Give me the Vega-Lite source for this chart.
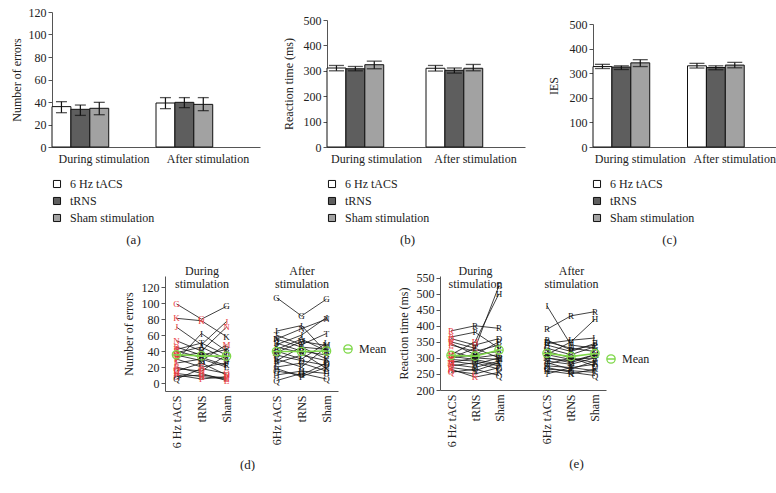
{
  "$schema": "https://vega.github.io/schema/vega-lite/v6.json",
  "padding": {"left": 10, "top": 6, "right": 0, "bottom": 0},
  "config": {
    "font": "Liberation Serif",
    "view": {"stroke": null},
    "axis": {"labelFont": "Liberation Serif", "titleFont": "Liberation Serif", "labelColor": "#222", "titleColor": "#222", "titleFontWeight": "normal", "labelFontSize": 12, "titleFontSize": 12, "domainColor": "#555", "tickColor": "#555", "grid": false, "labelOverlap": false},
    "legend": {"labelFont": "Liberation Serif", "labelFontSize": 12, "labelColor": "#222", "padding": 0},
    "title": {"font": "Liberation Serif"}
  },
  "datasets": {
    "bars": [
      {"panel": "a", "phase": "During stimulation", "cond": "6 Hz tACS", "mean": 35.9, "lo": 30.5, "hi": 40.3},
      {"panel": "a", "phase": "During stimulation", "cond": "tRNS", "mean": 33.5, "lo": 28.1, "hi": 37.3},
      {"panel": "a", "phase": "During stimulation", "cond": "Sham stimulation", "mean": 34.4, "lo": 28.7, "hi": 39.7},
      {"panel": "a", "phase": "After stimulation", "cond": "6 Hz tACS", "mean": 39.1, "lo": 34.1, "hi": 43.9},
      {"panel": "a", "phase": "After stimulation", "cond": "tRNS", "mean": 39.7, "lo": 35.0, "hi": 43.9},
      {"panel": "a", "phase": "After stimulation", "cond": "Sham stimulation", "mean": 37.9, "lo": 32.3, "hi": 43.9},
      {"panel": "b", "phase": "During stimulation", "cond": "6 Hz tACS", "mean": 311, "lo": 300, "hi": 321},
      {"panel": "b", "phase": "During stimulation", "cond": "tRNS", "mean": 308, "lo": 300, "hi": 317},
      {"panel": "b", "phase": "During stimulation", "cond": "Sham stimulation", "mean": 324, "lo": 308, "hi": 338},
      {"panel": "b", "phase": "After stimulation", "cond": "6 Hz tACS", "mean": 310, "lo": 299, "hi": 321},
      {"panel": "b", "phase": "After stimulation", "cond": "tRNS", "mean": 302, "lo": 291, "hi": 311},
      {"panel": "b", "phase": "After stimulation", "cond": "Sham stimulation", "mean": 310, "lo": 300, "hi": 325},
      {"panel": "c", "phase": "During stimulation", "cond": "6 Hz tACS", "mean": 327, "lo": 319, "hi": 336},
      {"panel": "c", "phase": "During stimulation", "cond": "tRNS", "mean": 325, "lo": 315, "hi": 330},
      {"panel": "c", "phase": "During stimulation", "cond": "Sham stimulation", "mean": 342, "lo": 327, "hi": 355},
      {"panel": "c", "phase": "After stimulation", "cond": "6 Hz tACS", "mean": 330, "lo": 321, "hi": 340},
      {"panel": "c", "phase": "After stimulation", "cond": "tRNS", "mean": 323, "lo": 314, "hi": 330},
      {"panel": "c", "phase": "After stimulation", "cond": "Sham stimulation", "mean": 333, "lo": 322, "hi": 344}
    ],
    "err": [
      {"s":"A","p":"d","c":"d1","v":38,"r":1},{"s":"A","p":"d","c":"d2","v":45},{"s":"A","p":"d","c":"d3","v":30},{"s":"A","p":"a","c":"a1","v":42},{"s":"A","p":"a","c":"a2","v":55},{"s":"A","p":"a","c":"a3","v":40},
      {"s":"B","p":"d","c":"d1","v":45,"r":1},{"s":"B","p":"d","c":"d2","v":35},{"s":"B","p":"d","c":"d3","v":42},{"s":"B","p":"a","c":"a1","v":50},{"s":"B","p":"a","c":"a2","v":40},{"s":"B","p":"a","c":"a3","v":35},
      {"s":"C","p":"d","c":"d1","v":8,"r":1},{"s":"C","p":"d","c":"d2","v":10,"r":1},{"s":"C","p":"d","c":"d3","v":6,"r":1},{"s":"C","p":"a","c":"a1","v":20},{"s":"C","p":"a","c":"a2","v":25},{"s":"C","p":"a","c":"a3","v":15},
      {"s":"D","p":"d","c":"d1","v":15,"r":1},{"s":"D","p":"d","c":"d2","v":25},{"s":"D","p":"d","c":"d3","v":10,"r":1},{"s":"D","p":"a","c":"a1","v":35},{"s":"D","p":"a","c":"a2","v":28},{"s":"D","p":"a","c":"a3","v":22},
      {"s":"E","p":"d","c":"d1","v":20,"r":1},{"s":"E","p":"d","c":"d2","v":12,"r":1},{"s":"E","p":"d","c":"d3","v":3,"r":1},{"s":"E","p":"a","c":"a1","v":30},{"s":"E","p":"a","c":"a2","v":20},{"s":"E","p":"a","c":"a3","v":45},
      {"s":"F","p":"d","c":"d1","v":30,"r":1},{"s":"F","p":"d","c":"d2","v":20,"r":1},{"s":"F","p":"d","c":"d3","v":25},{"s":"F","p":"a","c":"a1","v":25},{"s":"F","p":"a","c":"a2","v":35},{"s":"F","p":"a","c":"a3","v":28},
      {"s":"G","p":"d","c":"d1","v":99,"r":1},{"s":"G","p":"d","c":"d2","v":80,"r":1},{"s":"G","p":"d","c":"d3","v":96},{"s":"G","p":"a","c":"a1","v":107},{"s":"G","p":"a","c":"a2","v":84},{"s":"G","p":"a","c":"a3","v":105},
      {"s":"H","p":"d","c":"d1","v":12,"r":1},{"s":"H","p":"d","c":"d2","v":8,"r":1},{"s":"H","p":"d","c":"d3","v":5,"r":1},{"s":"H","p":"a","c":"a1","v":10},{"s":"H","p":"a","c":"a2","v":15},{"s":"H","p":"a","c":"a3","v":12},
      {"s":"I","p":"d","c":"d1","v":28,"r":1},{"s":"I","p":"d","c":"d2","v":62},{"s":"I","p":"d","c":"d3","v":40},{"s":"I","p":"a","c":"a1","v":65},{"s":"I","p":"a","c":"a2","v":72},{"s":"I","p":"a","c":"a3","v":38},
      {"s":"J","p":"d","c":"d1","v":70,"r":1},{"s":"J","p":"d","c":"d2","v":48},{"s":"J","p":"d","c":"d3","v":77,"r":1},{"s":"J","p":"a","c":"a1","v":48},{"s":"J","p":"a","c":"a2","v":60},{"s":"J","p":"a","c":"a3","v":82},
      {"s":"K","p":"d","c":"d1","v":81,"r":1},{"s":"K","p":"d","c":"d2","v":78,"r":1},{"s":"K","p":"d","c":"d3","v":58},{"s":"K","p":"a","c":"a1","v":55},{"s":"K","p":"a","c":"a2","v":45},{"s":"K","p":"a","c":"a3","v":30},
      {"s":"L","p":"d","c":"d1","v":25,"r":1},{"s":"L","p":"d","c":"d2","v":30},{"s":"L","p":"d","c":"d3","v":20},{"s":"L","p":"a","c":"a1","v":40},{"s":"L","p":"a","c":"a2","v":30},{"s":"L","p":"a","c":"a3","v":50},
      {"s":"M","p":"d","c":"d1","v":35,"r":1},{"s":"M","p":"d","c":"d2","v":28},{"s":"M","p":"d","c":"d3","v":48,"r":1},{"s":"M","p":"a","c":"a1","v":38},{"s":"M","p":"a","c":"a2","v":52},{"s":"M","p":"a","c":"a3","v":47},
      {"s":"N","p":"d","c":"d1","v":53,"r":1},{"s":"N","p":"d","c":"d2","v":40},{"s":"N","p":"d","c":"d3","v":70,"r":1},{"s":"N","p":"a","c":"a1","v":55},{"s":"N","p":"a","c":"a2","v":68},{"s":"N","p":"a","c":"a3","v":80},
      {"s":"O","p":"d","c":"d1","v":18,"r":1},{"s":"O","p":"d","c":"d2","v":15,"r":1},{"s":"O","p":"d","c":"d3","v":35},{"s":"O","p":"a","c":"a1","v":15},{"s":"O","p":"a","c":"a2","v":10},{"s":"O","p":"a","c":"a3","v":25},
      {"s":"P","p":"d","c":"d1","v":10,"r":1},{"s":"P","p":"d","c":"d2","v":5,"r":1},{"s":"P","p":"d","c":"d3","v":8,"r":1},{"s":"P","p":"a","c":"a1","v":18},{"s":"P","p":"a","c":"a2","v":8},{"s":"P","p":"a","c":"a3","v":20},
      {"s":"Q","p":"d","c":"d1","v":5},{"s":"Q","p":"d","c":"d2","v":18,"r":1},{"s":"Q","p":"d","c":"d3","v":12,"r":1},{"s":"Q","p":"a","c":"a1","v":3},{"s":"Q","p":"a","c":"a2","v":12},{"s":"Q","p":"a","c":"a3","v":5},
      {"s":"R","p":"d","c":"d1","v":40,"r":1},{"s":"R","p":"d","c":"d2","v":32},{"s":"R","p":"d","c":"d3","v":22},{"s":"R","p":"a","c":"a1","v":28},{"s":"R","p":"a","c":"a2","v":45},{"s":"R","p":"a","c":"a3","v":42},
      {"s":"S","p":"d","c":"d1","v":33,"r":1},{"s":"S","p":"d","c":"d2","v":38},{"s":"S","p":"d","c":"d3","v":28},{"s":"S","p":"a","c":"a1","v":45},{"s":"S","p":"a","c":"a2","v":38},{"s":"S","p":"a","c":"a3","v":18},
      {"s":"T","p":"d","c":"d1","v":42,"r":1},{"s":"T","p":"d","c":"d2","v":50},{"s":"T","p":"d","c":"d3","v":35},{"s":"T","p":"a","c":"a1","v":60},{"s":"T","p":"a","c":"a2","v":48},{"s":"T","p":"a","c":"a3","v":62}
    ],
    "rt": [
      {"s":"A","p":"d","c":"d1","v":290,"r":1},{"s":"A","p":"d","c":"d2","v":280},{"s":"A","p":"d","c":"d3","v":300},{"s":"A","p":"a","c":"a1","v":300},{"s":"A","p":"a","c":"a2","v":290},{"s":"A","p":"a","c":"a3","v":310},
      {"s":"B","p":"d","c":"d1","v":345,"r":1},{"s":"B","p":"d","c":"d2","v":310},{"s":"B","p":"d","c":"d3","v":350},{"s":"B","p":"a","c":"a1","v":340},{"s":"B","p":"a","c":"a2","v":320},{"s":"B","p":"a","c":"a3","v":345},
      {"s":"C","p":"d","c":"d1","v":260,"r":1},{"s":"C","p":"d","c":"d2","v":250,"r":1},{"s":"C","p":"d","c":"d3","v":270},{"s":"C","p":"a","c":"a1","v":265},{"s":"C","p":"a","c":"a2","v":260},{"s":"C","p":"a","c":"a3","v":255},
      {"s":"D","p":"d","c":"d1","v":360,"r":1},{"s":"D","p":"d","c":"d2","v":340},{"s":"D","p":"d","c":"d3","v":360},{"s":"D","p":"a","c":"a1","v":350},{"s":"D","p":"a","c":"a2","v":330},{"s":"D","p":"a","c":"a3","v":320},
      {"s":"E","p":"d","c":"d1","v":300,"r":1},{"s":"E","p":"d","c":"d2","v":330,"r":1},{"s":"E","p":"d","c":"d3","v":525},{"s":"E","p":"a","c":"a1","v":290},{"s":"E","p":"a","c":"a2","v":280},{"s":"E","p":"a","c":"a3","v":300},
      {"s":"F","p":"d","c":"d1","v":280,"r":1},{"s":"F","p":"d","c":"d2","v":270},{"s":"F","p":"d","c":"d3","v":290},{"s":"F","p":"a","c":"a1","v":275},{"s":"F","p":"a","c":"a2","v":270},{"s":"F","p":"a","c":"a3","v":280},
      {"s":"G","p":"d","c":"d1","v":320,"r":1},{"s":"G","p":"d","c":"d2","v":300},{"s":"G","p":"d","c":"d3","v":310},{"s":"G","p":"a","c":"a1","v":330},{"s":"G","p":"a","c":"a2","v":310},{"s":"G","p":"a","c":"a3","v":335},
      {"s":"H","p":"d","c":"d1","v":310,"r":1},{"s":"H","p":"d","c":"d2","v":350,"r":1},{"s":"H","p":"d","c":"d3","v":500},{"s":"H","p":"a","c":"a1","v":310},{"s":"H","p":"a","c":"a2","v":350},{"s":"H","p":"a","c":"a3","v":420},
      {"s":"I","p":"d","c":"d1","v":270,"r":1},{"s":"I","p":"d","c":"d2","v":260},{"s":"I","p":"d","c":"d3","v":285},{"s":"I","p":"a","c":"a1","v":462},{"s":"I","p":"a","c":"a2","v":340},{"s":"I","p":"a","c":"a3","v":330},
      {"s":"J","p":"d","c":"d1","v":295,"r":1},{"s":"J","p":"d","c":"d2","v":290},{"s":"J","p":"d","c":"d3","v":275},{"s":"J","p":"a","c":"a1","v":285},{"s":"J","p":"a","c":"a2","v":265},{"s":"J","p":"a","c":"a3","v":290},
      {"s":"K","p":"d","c":"d1","v":265,"r":1},{"s":"K","p":"d","c":"d2","v":240,"r":1},{"s":"K","p":"d","c":"d3","v":255},{"s":"K","p":"a","c":"a1","v":260},{"s":"K","p":"a","c":"a2","v":250},{"s":"K","p":"a","c":"a3","v":265},
      {"s":"L","p":"d","c":"d1","v":340,"r":1},{"s":"L","p":"d","c":"d2","v":320},{"s":"L","p":"d","c":"d3","v":340},{"s":"L","p":"a","c":"a1","v":345},{"s":"L","p":"a","c":"a2","v":355},{"s":"L","p":"a","c":"a3","v":362},
      {"s":"M","p":"d","c":"d1","v":285,"r":1},{"s":"M","p":"d","c":"d2","v":300},{"s":"M","p":"d","c":"d3","v":295},{"s":"M","p":"a","c":"a1","v":300},{"s":"M","p":"a","c":"a2","v":285},{"s":"M","p":"a","c":"a3","v":310},
      {"s":"N","p":"d","c":"d1","v":305,"r":1},{"s":"N","p":"d","c":"d2","v":295},{"s":"N","p":"d","c":"d3","v":280},{"s":"N","p":"a","c":"a1","v":320},{"s":"N","p":"a","c":"a2","v":300},{"s":"N","p":"a","c":"a3","v":285},
      {"s":"O","p":"d","c":"d1","v":275,"r":1},{"s":"O","p":"d","c":"d2","v":285},{"s":"O","p":"d","c":"d3","v":265},{"s":"O","p":"a","c":"a1","v":280},{"s":"O","p":"a","c":"a2","v":300},{"s":"O","p":"a","c":"a3","v":275},
      {"s":"P","p":"d","c":"d1","v":365,"r":1},{"s":"P","p":"d","c":"d2","v":380},{"s":"P","p":"d","c":"d3","v":330},{"s":"P","p":"a","c":"a1","v":355},{"s":"P","p":"a","c":"a2","v":325},{"s":"P","p":"a","c":"a3","v":340},
      {"s":"Q","p":"d","c":"d1","v":255,"r":1},{"s":"Q","p":"d","c":"d2","v":265},{"s":"Q","p":"d","c":"d3","v":245},{"s":"Q","p":"a","c":"a1","v":270},{"s":"Q","p":"a","c":"a2","v":255},{"s":"Q","p":"a","c":"a3","v":245},
      {"s":"R","p":"d","c":"d1","v":384,"r":1},{"s":"R","p":"d","c":"d2","v":400},{"s":"R","p":"d","c":"d3","v":392},{"s":"R","p":"a","c":"a1","v":389},{"s":"R","p":"a","c":"a2","v":431},{"s":"R","p":"a","c":"a3","v":444},
      {"s":"S","p":"d","c":"d1","v":300,"r":1},{"s":"S","p":"d","c":"d2","v":310},{"s":"S","p":"d","c":"d3","v":320},{"s":"S","p":"a","c":"a1","v":310},{"s":"S","p":"a","c":"a2","v":295},{"s":"S","p":"a","c":"a3","v":300},
      {"s":"T","p":"d","c":"d1","v":350,"r":1},{"s":"T","p":"d","c":"d2","v":330},{"s":"T","p":"d","c":"d3","v":300},{"s":"T","p":"a","c":"a1","v":250},{"s":"T","p":"a","c":"a2","v":270},{"s":"T","p":"a","c":"a3","v":260}
    ]
  },
  "vconcat": [
    {
      "hconcat": [
        {
          "width": 208, "height": 135,
          "data": {"name": "bars"},
          "transform": [{"filter": "datum.panel == 'a'"}],
          "layer": [
            {"mark": {"type": "bar", "stroke": "#111", "strokeWidth": 1},
             "encoding": {
               "x": {"field": "phase", "type": "nominal", "sort": ["During stimulation", "After stimulation"], "scale": {"paddingInner": 0, "paddingOuter": 0},
                     "axis": {"title": "(a)", "labelAngle": 0, "ticks": false, "labelPadding": 6, "titleX": 81, "titleY": 86, "titleBaseline": "top", "titleFontSize": 13}},
               "xOffset": {"field": "cond", "type": "nominal", "scale": {"domain": ["6 Hz tACS", "tRNS", "Sham stimulation", "e1", "e2"], "paddingInner": 0, "paddingOuter": 0.25, "align": 0}},
               "y": {"field": "mean", "type": "quantitative", "scale": {"domain": [0, 120]}, "axis": {"values": [0, 20, 40, 60, 80, 100, 120], "tickCount": 12, "labelOverlap": false, "title": "Number of errors", "tickSize": 4, "titlePadding": 5}},
               "fill": {"field": "cond", "type": "nominal", "scale": {"domain": ["6 Hz tACS", "tRNS", "Sham stimulation"], "range": ["#ffffff", "#5e5e5e", "#a2a2a2"]},
                        "legend": {"orient": "none", "legendX": -1, "legendY": 166, "title": null, "symbolType": "square", "symbolSize": 50, "symbolStrokeColor": "#111", "symbolStrokeWidth": 1, "rowPadding": 5, "labelOffset": 7}}
             }},
            {"mark": {"type": "rule", "color": "#111", "strokeWidth": 1.2},
             "encoding": {"x": {"field": "phase", "type": "nominal", "sort": ["During stimulation", "After stimulation"]}, "xOffset": {"field": "cond", "type": "nominal"}, "y": {"field": "lo", "type": "quantitative"}, "y2": {"field": "hi"}}},
            {"mark": {"type": "tick", "color": "#111", "thickness": 1.3, "size": 11},
             "encoding": {"x": {"field": "phase", "type": "nominal", "sort": ["During stimulation", "After stimulation"]}, "xOffset": {"field": "cond", "type": "nominal"}, "y": {"field": "lo", "type": "quantitative"}}},
            {"mark": {"type": "tick", "color": "#111", "thickness": 1.3, "size": 11},
             "encoding": {"x": {"field": "phase", "type": "nominal", "sort": ["During stimulation", "After stimulation"]}, "xOffset": {"field": "cond", "type": "nominal"}, "y": {"field": "hi", "type": "quantitative"}}}
          ]
        },
        {
          "width": 198, "height": 135,
          "data": {"name": "bars"},
          "transform": [{"filter": "datum.panel == 'b'"}],
          "layer": [
            {"mark": {"type": "bar", "stroke": "#111", "strokeWidth": 1},
             "encoding": {
               "x": {"field": "phase", "type": "nominal", "sort": ["During stimulation", "After stimulation"], "scale": {"paddingInner": 0, "paddingOuter": 0},
                     "axis": {"title": "(b)", "labelAngle": 0, "ticks": false, "labelPadding": 6, "titleX": 80, "titleY": 86, "titleBaseline": "top", "titleFontSize": 13}},
               "xOffset": {"field": "cond", "type": "nominal", "scale": {"domain": ["6 Hz tACS", "tRNS", "Sham stimulation"], "paddingInner": 0, "paddingOuter": 0.28}},
               "y": {"field": "mean", "type": "quantitative", "scale": {"domain": [0, 500], "range": [135, 8]}, "axis": {"values": [0, 100, 200, 300, 400, 500], "tickCount": 12, "labelOverlap": false, "title": "Reaction time (ms)", "tickSize": 4, "titlePadding": 8}},
               "fill": {"field": "cond", "type": "nominal", "scale": {"domain": ["6 Hz tACS", "tRNS", "Sham stimulation"], "range": ["#ffffff", "#5e5e5e", "#a2a2a2"]},
                        "legend": {"orient": "none", "legendX": -1, "legendY": 166, "title": null, "symbolType": "square", "symbolSize": 50, "symbolStrokeColor": "#111", "symbolStrokeWidth": 1, "rowPadding": 5, "labelOffset": 7}}
             }},
            {"mark": {"type": "rule", "color": "#111", "strokeWidth": 1.2},
             "encoding": {"x": {"field": "phase", "type": "nominal", "sort": ["During stimulation", "After stimulation"]}, "xOffset": {"field": "cond", "type": "nominal"}, "y": {"field": "lo", "type": "quantitative"}, "y2": {"field": "hi"}}},
            {"mark": {"type": "tick", "color": "#111", "thickness": 1.3, "size": 15},
             "encoding": {"x": {"field": "phase", "type": "nominal", "sort": ["During stimulation", "After stimulation"]}, "xOffset": {"field": "cond", "type": "nominal"}, "y": {"field": "lo", "type": "quantitative"}}},
            {"mark": {"type": "tick", "color": "#111", "thickness": 1.3, "size": 15},
             "encoding": {"x": {"field": "phase", "type": "nominal", "sort": ["During stimulation", "After stimulation"]}, "xOffset": {"field": "cond", "type": "nominal"}, "y": {"field": "hi", "type": "quantitative"}}}
          ]
        },
        {
          "width": 189, "height": 135,
          "data": {"name": "bars"},
          "transform": [{"filter": "datum.panel == 'c'"}],
          "layer": [
            {"mark": {"type": "bar", "stroke": "#111", "strokeWidth": 1},
             "encoding": {
               "x": {"field": "phase", "type": "nominal", "sort": ["During stimulation", "After stimulation"], "scale": {"paddingInner": 0, "paddingOuter": 0},
                     "axis": {"title": "(c)", "labelAngle": 0, "ticks": false, "labelPadding": 6, "titleX": 76, "titleY": 86, "titleBaseline": "top", "titleFontSize": 13}},
               "xOffset": {"field": "cond", "type": "nominal", "scale": {"domain": ["6 Hz tACS", "tRNS", "Sham stimulation"], "paddingInner": 0, "paddingOuter": 0.27}},
               "y": {"field": "mean", "type": "quantitative", "scale": {"domain": [0, 500], "range": [135, 12]}, "axis": {"values": [0, 100, 200, 300, 400, 500], "tickCount": 12, "labelOverlap": false, "title": "IES", "tickSize": 4, "titlePadding": 9}},
               "fill": {"field": "cond", "type": "nominal", "scale": {"domain": ["6 Hz tACS", "tRNS", "Sham stimulation"], "range": ["#ffffff", "#5e5e5e", "#a2a2a2"]},
                        "legend": {"orient": "none", "legendX": -2, "legendY": 166, "title": null, "symbolType": "square", "symbolSize": 50, "symbolStrokeColor": "#111", "symbolStrokeWidth": 1, "rowPadding": 5, "labelOffset": 7}}
             }},
            {"mark": {"type": "rule", "color": "#111", "strokeWidth": 1.2},
             "encoding": {"x": {"field": "phase", "type": "nominal", "sort": ["During stimulation", "After stimulation"]}, "xOffset": {"field": "cond", "type": "nominal"}, "y": {"field": "lo", "type": "quantitative"}, "y2": {"field": "hi"}}},
            {"mark": {"type": "tick", "color": "#111", "thickness": 1.3, "size": 15},
             "encoding": {"x": {"field": "phase", "type": "nominal", "sort": ["During stimulation", "After stimulation"]}, "xOffset": {"field": "cond", "type": "nominal"}, "y": {"field": "lo", "type": "quantitative"}}},
            {"mark": {"type": "tick", "color": "#111", "thickness": 1.3, "size": 15},
             "encoding": {"x": {"field": "phase", "type": "nominal", "sort": ["During stimulation", "After stimulation"]}, "xOffset": {"field": "cond", "type": "nominal"}, "y": {"field": "hi", "type": "quantitative"}}}
          ]
        }
      ],
      "spacing": 22,
      "resolve": {"scale": {"fill": "independent"}, "legend": {"fill": "independent"}}
    },
    {
      "hconcat": [
        {"width": 60, "height": 10, "data": {"values": []}, "mark": "point", "encoding": {}},
        {
          "width": 173, "height": 115,
          "data": {"name": "err"},
          "layer": [
            {"mark": {"type": "line", "color": "#111", "strokeWidth": 0.8},
             "encoding": {
               "x": {"field": "c", "type": "nominal", "scale": {"type": "point", "domain": ["d1", "d2", "d3", "gap", "a1", "a2", "a3"], "padding": 0.46},
                     "axis": {"orient": "bottom", "title": "(d)", "labelExpr": "datum.value == 'd1' ? '6 Hz tACS' : datum.value == 'a1' ? '6Hz tACS' : (datum.value == 'd2' || datum.value == 'a2') ? 'tRNS' : (datum.value == 'd3' || datum.value == 'a3') ? 'Sham' : ''", "labelAngle": -90, "labelAlign": "right", "labelBaseline": "middle", "ticks": false, "labelPadding": 4, "titleX": 82, "titleY": 67, "titleBaseline": "top", "titleFontSize": 13}},
               "y": {"field": "v", "type": "quantitative", "scale": {"domain": [-10, 134], "nice": false}, "axis": {"values": [0, 20, 40, 60, 80, 100, 120], "tickCount": 12, "labelOverlap": false, "title": "Number of errors", "tickSize": 4, "titlePadding": 6}},
               "detail": [{"field": "s"}, {"field": "p"}]
             }},
            {"mark": {"type": "text", "fontSize": 9, "font": "Liberation Serif"},
             "encoding": {
               "x": {"field": "c", "type": "nominal", "axis": null},
               "y": {"field": "v", "type": "quantitative"},
               "text": {"field": "s"},
               "color": {"condition": {"test": "datum.r == 1", "value": "#e8393c"}, "value": "#111"}
             }},
            {"mark": {"type": "line", "color": "#7fd84a", "strokeWidth": 1.6},
             "encoding": {
               "x": {"field": "c", "type": "nominal", "axis": {"orient": "top", "title": null, "domain": false, "ticks": false, "labelAngle": 0, "labelExpr": "datum.value == 'd2' ? ['During', 'stimulation'] : datum.value == 'a2' ? ['After', 'stimulation'] : ''", "labelPadding": -1, "labelLineHeight": 13}},
               "y": {"aggregate": "mean", "field": "v", "type": "quantitative"},
               "detail": {"field": "p"}
             }},
            {"mark": {"type": "point", "filled": false, "strokeWidth": 1.3, "size": 70, "shape": "M-1,0A1,1,0,1,1,1,0A1,1,0,1,1,-1,0ZM-1,0L1,0"},
             "encoding": {
               "x": {"field": "c", "type": "nominal", "axis": null},
               "y": {"aggregate": "mean", "field": "v", "type": "quantitative"},
               "stroke": {"datum": "Mean", "type": "nominal", "scale": {"range": ["#7fd84a"]},
                          "legend": {"orient": "none", "legendX": 177, "legendY": 67, "title": null, "symbolType": "M-1,0A1,1,0,1,1,1,0A1,1,0,1,1,-1,0ZM-1,0L1,0", "symbolSize": 70, "symbolStrokeWidth": 1.3, "labelOffset": 5}}
             }}
          ],
          "resolve": {"axis": {"x": "independent"}}
        },
        {
          "width": 166, "height": 114,
          "data": {"name": "rt"},
          "layer": [
            {"mark": {"type": "line", "color": "#111", "strokeWidth": 0.8},
             "encoding": {
               "x": {"field": "c", "type": "nominal", "scale": {"type": "point", "domain": ["d1", "d2", "d3", "gap", "a1", "a2", "a3"], "padding": 0.46},
                     "axis": {"orient": "bottom", "title": "(e)", "labelExpr": "datum.value == 'd1' ? '6 Hz tACS' : datum.value == 'a1' ? '6Hz tACS' : (datum.value == 'd2' || datum.value == 'a2') ? 'tRNS' : (datum.value == 'd3' || datum.value == 'a3') ? 'Sham' : ''", "labelAngle": -90, "labelAlign": "right", "labelBaseline": "middle", "ticks": false, "labelPadding": 4, "titleX": 136, "titleY": 67, "titleBaseline": "top", "titleFontSize": 13}},
               "y": {"field": "v", "type": "quantitative", "scale": {"domain": [200, 555], "nice": false}, "axis": {"values": [200, 250, 300, 350, 400, 450, 500, 550], "tickCount": 12, "labelOverlap": false, "title": "Reaction time (ms)", "tickSize": 4, "titlePadding": 6}},
               "detail": [{"field": "s"}, {"field": "p"}]
             }},
            {"mark": {"type": "text", "fontSize": 9, "font": "Liberation Serif"},
             "encoding": {
               "x": {"field": "c", "type": "nominal", "axis": null},
               "y": {"field": "v", "type": "quantitative"},
               "text": {"field": "s"},
               "color": {"condition": {"test": "datum.r == 1", "value": "#e8393c"}, "value": "#111"}
             }},
            {"mark": {"type": "line", "color": "#7fd84a", "strokeWidth": 1.6},
             "encoding": {
               "x": {"field": "c", "type": "nominal", "axis": {"orient": "top", "title": null, "domain": false, "ticks": false, "labelAngle": 0, "labelExpr": "datum.value == 'd2' ? ['During', 'stimulation'] : datum.value == 'a2' ? ['After', 'stimulation'] : ''", "labelPadding": -1, "labelLineHeight": 13}},
               "y": {"aggregate": "mean", "field": "v", "type": "quantitative"},
               "detail": {"field": "p"}
             }},
            {"mark": {"type": "point", "filled": false, "strokeWidth": 1.3, "size": 70, "shape": "M-1,0A1,1,0,1,1,1,0A1,1,0,1,1,-1,0ZM-1,0L1,0"},
             "encoding": {
               "x": {"field": "c", "type": "nominal", "axis": null},
               "y": {"aggregate": "mean", "field": "v", "type": "quantitative"},
               "stroke": {"datum": "Mean", "type": "nominal", "scale": {"range": ["#7fd84a"]},
                          "legend": {"orient": "none", "legendX": 165, "legendY": 77, "title": null, "symbolType": "M-1,0A1,1,0,1,1,1,0A1,1,0,1,1,-1,0ZM-1,0L1,0", "symbolSize": 70, "symbolStrokeWidth": 1.3, "labelOffset": 5}}
             }}
          ],
          "resolve": {"axis": {"x": "independent"}}
        }
      ],
      "spacing": 10,
      "resolve": {"scale": {"stroke": "independent"}, "legend": {"stroke": "independent"}}
    }
  ],
  "spacing": 18,
  "resolve": {"scale": {"fill": "independent", "stroke": "independent"}, "legend": {"fill": "independent", "stroke": "independent"}}
}
